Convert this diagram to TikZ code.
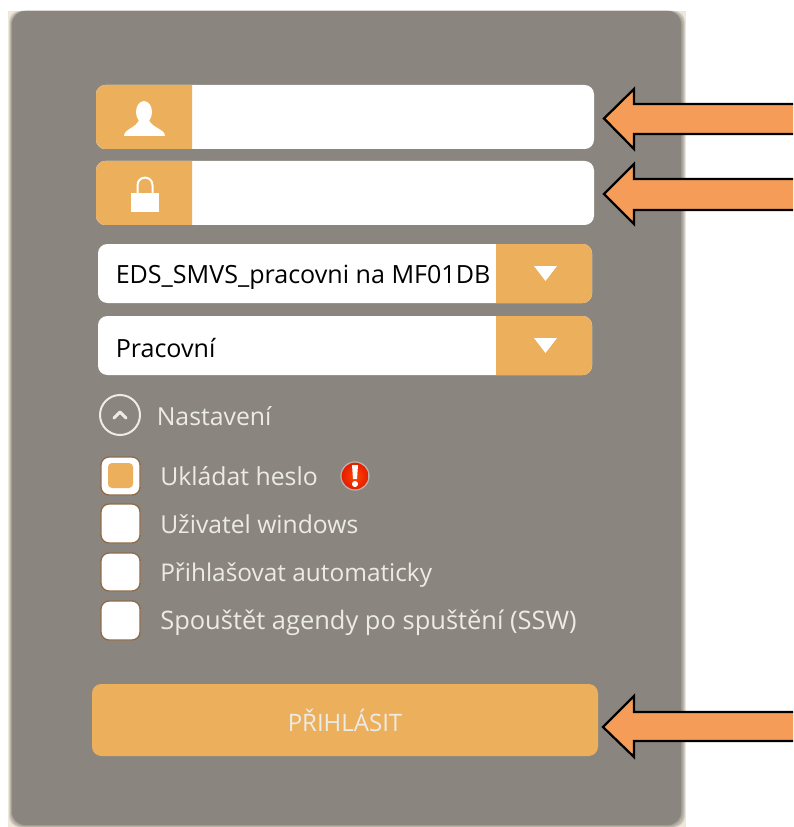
\documentclass[tikz,border=0pt]{standalone}
\usepackage{fontspec}
\setmainfont{Open Sans}
\definecolor{panelgray}{HTML}{8A867F}
\definecolor{panelband}{HTML}{EFE7D8}
\definecolor{uiorange}{HTML}{ECAF5B}
\definecolor{arroworange}{HTML}{F59D58}
\definecolor{labeltext}{HTML}{EDEBE7}
\definecolor{boxedge}{HTML}{8F6A48}
\tikzset{
  x=0.75pt,y=-0.75pt,
  whitefill/.style={fill=white,draw=none},
  orangefill/.style={fill=uiorange,draw=none},
  bigarrow/.style={fill=arroworange,draw=black,line width=1.7pt,line join=miter},
  settinglabel/.style={anchor=base west,inner sep=0pt,text=labeltext},
  fieldlabel/.style={anchor=base west,inner sep=0pt,text=black,font=\fontsize{18.8}{21}\selectfont},
  checkbox/.style={fill=white,draw=boxedge,line width=1pt,rounded corners=6pt},
}
\begin{document}
\begin{tikzpicture}
\useasboundingbox (0,0) rectangle (793,827);
\fill[white] (0,0) rectangle (793,827);
% panel
\begin{scope}
\clip (0,0) rectangle (793,827);
\fill[panelband] (8,11) rectangle (686,827);
\fill[panelband!75!panelgray,rounded corners=8pt] (9,11) rectangle (685,827);
\fill[panelband!50!panelgray,rounded corners=9pt] (10,11) rectangle (684,827);
\fill[panelband!25!panelgray,rounded corners=10pt] (11,11) rectangle (682.5,826);
\fill[panelgray,rounded corners=10pt] (12,11) rectangle (681,825);
\end{scope}
% username field
\fill[whitefill,rounded corners=7pt] (96,85) rectangle (594,149);
\fill[orangefill] (192,85) [rounded corners=7pt] -- (96,85) -- (96,149) [sharp corners] -- (192,149) -- cycle;
\fill[white] (144,112) ellipse [x radius=6pt, y radius=8.2pt];
\fill[white] (124,136) .. controls (124,129) and (136,128) .. (139,120) -- (149,120) .. controls (152,128) and (165,129) .. (165,136) -- cycle;
% password field
\fill[whitefill,rounded corners=7pt] (96,161) rectangle (594,225);
\fill[orangefill] (192,161) [rounded corners=7pt] -- (96,161) -- (96,225) [sharp corners] -- (192,225) -- cycle;
\fill[white] (131,193) rectangle (159,212);
\draw[white,line width=1.5pt] (137.5,193) -- (137.5,185.5) .. controls (137.5,175) and (152.5,175) .. (152.5,185.5) -- (152.5,193);
% dropdown 1
\fill[whitefill,rounded corners=7pt] (98,244) rectangle (592,303);
\node[fieldlabel] (db) at (115.5,283) {EDS\_SMVS\_pracovni na MF01DB};
\fill[orangefill] (496,244) [rounded corners=7pt] -- (592,244) -- (592,303) [sharp corners] -- (496,303) -- cycle;
\fill[white] (534,266) -- (557,266) -- (545.5,281) -- cycle;
% dropdown 2
\fill[whitefill,rounded corners=7pt] (98,316) rectangle (592,375);
\fill[orangefill] (496,316) [rounded corners=7pt] -- (592,316) -- (592,375) [sharp corners] -- (496,375) -- cycle;
\fill[white] (534,338) -- (557,338) -- (545.5,353) -- cycle;
\node[fieldlabel] (env) at (115.5,357) {Pracovní};
% settings
\draw[labeltext,line width=1.5pt] (120,415) circle [radius=15pt];
\draw[labeltext,line width=2.2pt,line cap=round,line join=round] (114,418) -- (120,412) -- (126,418);
\node[settinglabel,font=\fontsize{18.6}{21}\selectfont] (nast) at (156.5,425) {Nastavení};
% checkboxes
\draw[checkbox] (101,457) rectangle (140,495);
\fill[orangefill,rounded corners=3pt] (108,463) rectangle (133,488);
\draw[checkbox] (101,504) rectangle (140,543);
\draw[checkbox] (101,553) rectangle (140,591);
\draw[checkbox] (101,601) rectangle (140,640);
\node[settinglabel,font=\fontsize{18.6}{21}\selectfont] (c1) at (160,485) {Ukládat heslo};
\node[settinglabel,font=\fontsize{18.5}{21}\selectfont] (c2) at (160,533) {Uživatel windows};
\node[settinglabel,font=\fontsize{18.3}{21}\selectfont] (c3) at (160,581) {Přihlašovat automaticky};
\node[settinglabel,font=\fontsize{19.1}{21}\selectfont] (c4) at (160,629) {Spouštět agendy po spuštění (SSW)};
% warning icon
\fill[labeltext!45!panelgray] (355,476) circle [radius=11pt];
\shade[inner color=orange!55!red,outer color=red!75!orange!90!black] (355,476) circle [radius=10pt];
\fill[white] (352,465) -- (358,465) -- (357,479) -- (353,479) -- cycle;
\fill[white] (355,484) circle [radius=2.3pt];
% button
\fill[orangefill,rounded corners=7pt] (92,684) rectangle (598,756);
\node[anchor=base,inner sep=0pt,text=labeltext,font=\fontsize{18}{20}\selectfont] (login) at (345,731) {PŘIHLÁSIT};
% arrows
\draw[bigarrow] (793,104) -- (634,104) -- (634,89) -- (604,118.5) -- (634,149) -- (634,134) -- (793,134);
\draw[bigarrow] (793,179) -- (634,179) -- (634,164) -- (604,194) -- (634,224) -- (634,210) -- (793,210);
\draw[bigarrow] (793,712) -- (634,712) -- (634,696) -- (603,727) -- (634,757) -- (634,741) -- (793,741);
\end{tikzpicture}
\end{document}
